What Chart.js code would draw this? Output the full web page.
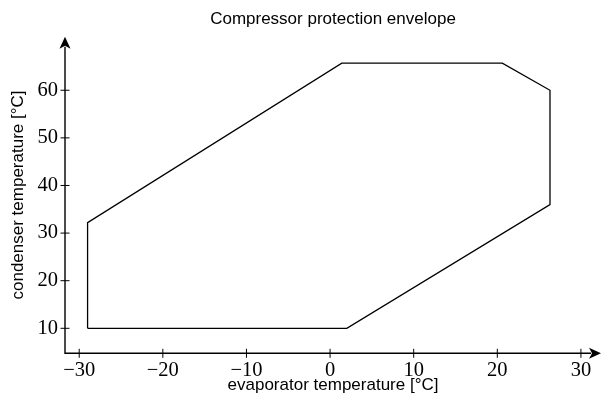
<!DOCTYPE html>
<html>
<head>
<meta charset="utf-8">
<script src="https://cdn.jsdelivr.net/npm/chart.js@4"></script>
<style>
  html, body { margin: 0; padding: 0; background: #fff; }
  #wrap { width: 602px; height: 396px; }
</style>
</head>
<body>
<div id="wrap"><canvas id="envelope"></canvas></div>
<script>
// envelope corners (clockwise from bottom-left)
const evaporatorTemp = [-29.0, -29.0, 1.4, 20.6, 26.3, 26.3, 2.0, -29.0];
const condenserTemp  = [10.0, 32.2, 65.7, 65.7, 60.0, 36.0, 10.0, 10.0];

const xTicks = [-30, -20, -10, 0, 10, 20, 30];
const yTicks = [10, 20, 30, 40, 50, 60];

const sans = '"Liberation Sans", Arial, sans-serif';
const serif = '"Liberation Serif", "Times New Roman", serif';

function fmt(v) {
    return v < 0 ? '\u2212' + Math.abs(v) : String(v);
}

// axis lines with arrow heads and ticks crossing the axis
const arrowAxes = {
    id: 'arrowAxes',
    afterDraw(chart) {
        const {ctx, chartArea: a, scales} = chart;
        const len = 12, half = 5.5;
        ctx.save();
        ctx.strokeStyle = '#000';
        ctx.fillStyle = '#000';
        ctx.lineWidth = 1.4;

        ctx.beginPath();
        ctx.moveTo(a.left, a.top + len - 2);
        ctx.lineTo(a.left, a.bottom);
        ctx.lineTo(a.right - len + 2, a.bottom);
        ctx.stroke();

        // right arrow
        ctx.beginPath();
        ctx.moveTo(a.right, a.bottom);
        ctx.lineTo(a.right - len, a.bottom - half);
        ctx.lineTo(a.right - len + 3, a.bottom);
        ctx.lineTo(a.right - len, a.bottom + half);
        ctx.closePath();
        ctx.fill();

        // up arrow
        ctx.beginPath();
        ctx.moveTo(a.left, a.top);
        ctx.lineTo(a.left - half, a.top + len);
        ctx.lineTo(a.left, a.top + len - 3);
        ctx.lineTo(a.left + half, a.top + len);
        ctx.closePath();
        ctx.fill();

        ctx.lineWidth = 1;
        xTicks.forEach(v => {
            const x = scales.x.getPixelForValue(v);
            ctx.beginPath();
            ctx.moveTo(x, a.bottom - 4.5);
            ctx.lineTo(x, a.bottom + 4.5);
            ctx.stroke();
        });
        yTicks.forEach(v => {
            const y = scales.y.getPixelForValue(v);
            ctx.beginPath();
            ctx.moveTo(a.left - 4.5, y);
            ctx.lineTo(a.left + 4.5, y);
            ctx.stroke();
        });
        ctx.restore();
    }
};

new Chart(document.getElementById('envelope'), {
    type: 'scatter',
    data: {
        datasets: [{
            label: 'envelope',
            data: evaporatorTemp.map((x, i) => ({x: x, y: condenserTemp[i]})),
            showLine: true,
            borderColor: '#000',
            borderWidth: 1.3,
            pointRadius: 0,
            tension: 0,
            fill: false
        }]
    },
    options: {
        responsive: true,
        maintainAspectRatio: false,
        animation: false,
        layout: { padding: { top: 0, right: 1, bottom: 0, left: 0 } },
        plugins: {
            legend: { display: false },
            tooltip: { enabled: false },
            title: {
                display: true,
                fullSize: false,
                text: 'Compressor protection envelope',
                color: '#000',
                font: { family: sans, size: 17, weight: 'normal', lineHeight: 1.2 },
                padding: { top: 9, bottom: 7.3 }
            }
        },
        scales: {
            x: {
                type: 'linear',
                min: -31.7,
                max: 32.4,
                grid: { display: false, drawTicks: false },
                border: { display: false },
                afterBuildTicks: s => { s.ticks = xTicks.map(v => ({value: v})); },
                afterFit: s => { s.height = 42.7; },
                ticks: {
                    color: '#000',
                    padding: 5,
                    maxRotation: 0,
                    font: { family: serif, size: 20.5 },
                    callback: v => fmt(v)
                },
                title: {
                    display: true,
                    text: 'evaporator temperature [°C]',
                    color: '#000',
                    font: { family: sans, size: 17, lineHeight: 1.2 },
                    padding: { top: 0, bottom: 0 }
                }
            },
            y: {
                type: 'linear',
                min: 4.75,
                max: 71.25,
                grid: { display: false, drawTicks: false },
                border: { display: false },
                afterBuildTicks: s => { s.ticks = yTicks.map(v => ({value: v})); },
                afterFit: s => { s.width = 65; },
                ticks: {
                    color: '#000',
                    padding: 7,
                    font: { family: serif, size: 20.5 },
                    callback: v => fmt(v)
                },
                title: {
                    display: true,
                    text: 'condenser temperature [°C]',
                    color: '#000',
                    font: { family: sans, size: 17, lineHeight: 1.2 },
                    padding: { top: 8, bottom: 0 }
                }
            }
        }
    },
    plugins: [arrowAxes]
});
</script>
</body>
</html>
